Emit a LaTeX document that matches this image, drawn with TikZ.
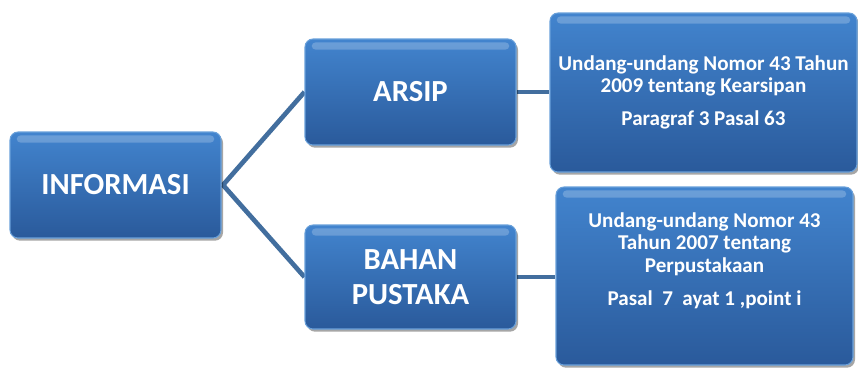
\documentclass[tikz,border=0pt]{standalone}
\usepackage{fontspec}
\setmainfont{Carlito}
\usetikzlibrary{shadows,backgrounds}

\tikzset{every picture/.style={line width=0.75pt}}
\definecolor{boxtop}{RGB}{66,132,206}
\definecolor{boxbot}{RGB}{42,90,155}
\definecolor{boxrim}{RGB}{105,160,218}
\definecolor{linkcol}{RGB}{66,110,158}

\begin{document}
\begin{tikzpicture}[x=0.75pt,y=0.75pt,yscale=-1,xscale=1,
  box/.style={rounded corners=6pt, draw=boxrim, line width=0.8pt, top color=boxtop, bottom color=boxbot,
    drop shadow={shadow xshift=1.5pt, shadow yshift=-2pt, opacity=0.35, fill=black},
    path picture={\fill [white, opacity=0.22, rounded corners=3pt]
      ([xshift=5pt,yshift=-2.5pt]path picture bounding box.north west) rectangle
      ([xshift=-5pt,yshift=-8pt]path picture bounding box.north east);},
    text=white, align=center, inner sep=0pt},
  bigtxt/.style={font=\bfseries\fontsize{23}{26}\selectfont},
  smalltxt/.style={font=\bfseries\fontsize{15.8}{16.8}\selectfont, text=white, align=center, inner sep=0pt},
  link/.style={draw=linkcol, line width=3.5pt}]
\useasboundingbox (0,0) rectangle (858,368);

%Shape: Rounded Rect [INFORMASI]
\node [box, bigtxt, minimum width=158.25pt, minimum height=79.5pt] (informasi) at (115.5,185) {INFORMASI};
%Shape: Rounded Rect [ARSIP]
\node [box, bigtxt, minimum width=158.25pt, minimum height=79.5pt] (arsip) at (410.5,92) {ARSIP};
%Shape: Rounded Rect [BAHAN PUSTAKA]
\node [box, bigtxt, minimum width=158.25pt, minimum height=78pt] (bahan) at (410.5,277) {BAHAN\\PUSTAKA};
%Shape: Rounded Rect [UU Kearsipan]
\node [box, smalltxt, minimum width=230.25pt, minimum height=119.25pt] (uukarsip) at (703.5,92.5)
  {Undang-undang Nomor 43 Tahun\\2009 tentang Kearsipan\\[8pt]Paragraf 3 Pasal 63};
%Shape: Rounded Rect [UU Perpustakaan]
\node [box, minimum width=222.75pt, minimum height=133.5pt] (uupustaka) at (704.5,276) {};

% Text Node
\node [smalltxt] (uupustakatxt) at (704.5,260.5)
  {Undang-undang Nomor 43\\Tahun 2007 tentang\\Perpustakaan\\[8pt]Pasal\ \ 7\ \ ayat 1 ,point i};

%Straight Lines
\begin{scope}[on background layer]
\coordinate (fork) at (223,185);
\draw [link] (informasi.east) -- (fork) -- (arsip.west);
\draw [link] (fork) -- (bahan.west);
\draw [link] (arsip.east) -- (arsip.east -| uukarsip.west);
\draw [link] (bahan.east) -- (bahan.east -| uupustaka.west);
\end{scope}

\end{tikzpicture}
\end{document}
